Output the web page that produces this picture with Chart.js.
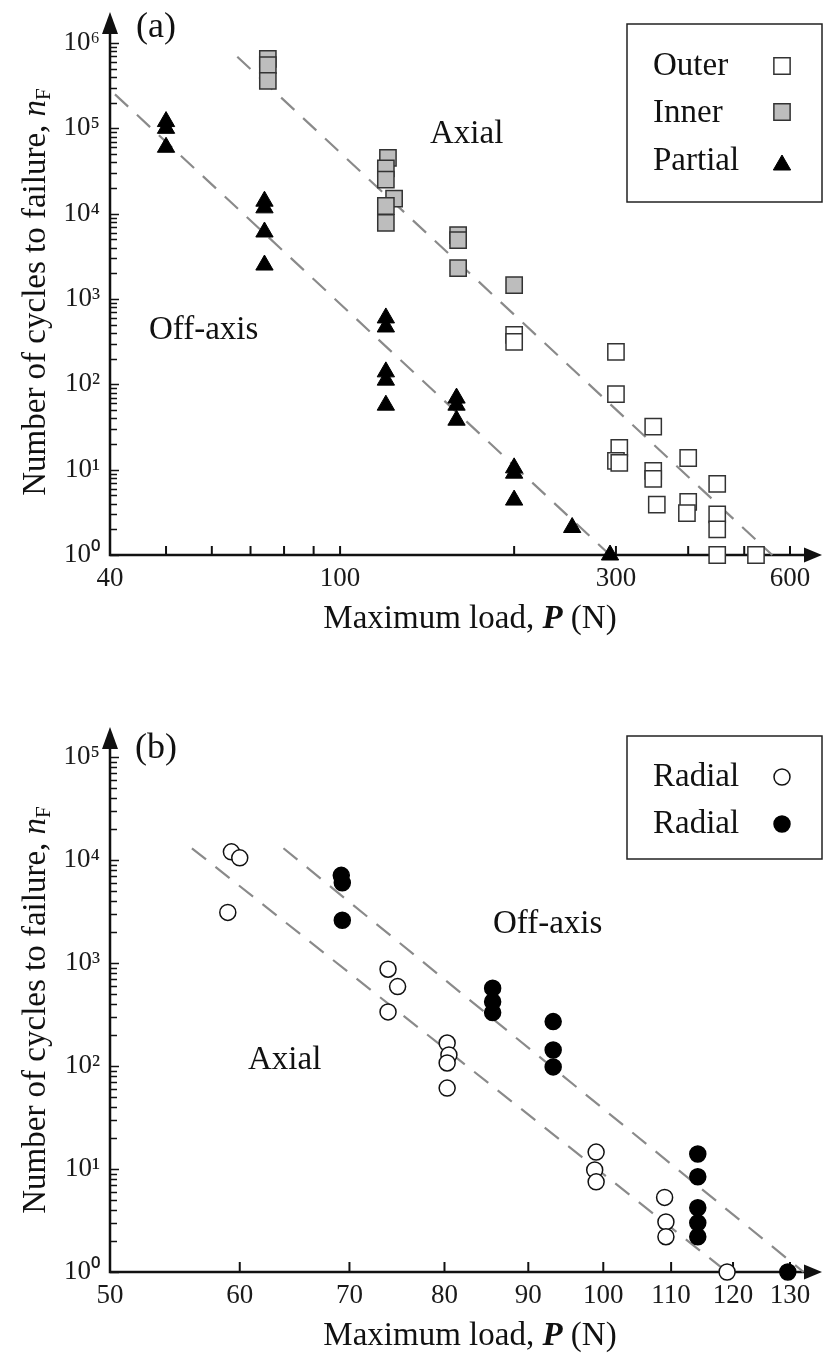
<!DOCTYPE html>
<html>
<head>
<meta charset="utf-8">
<script src="https://cdn.jsdelivr.net/npm/chart.js@4.4.1/dist/chart.umd.min.js"></script>
<style>
  html, body { margin: 0; padding: 0; background: #fff; }
  canvas { display: block; }
</style>
</head>
<body>
<canvas id="chartA" width="824" height="676"></canvas>
<canvas id="chartB" width="824" height="677"></canvas>
<script>
// ---- panel (a): log load vs log cycles ----
const loadTicksA = [40, 50, 60, 70, 80, 90, 100, 200, 300, 400, 500, 600];
const loadLabelsA = [40, 100, 300, 600];
const cycleLabelsA = [1, 10, 100, 1e3, 1e4, 1e5, 1e6];

const outerLoad = [200, 200, 300, 300, 304, 300, 304, 348, 348, 348, 353, 400, 400, 398, 449, 449, 449, 449, 524];
const outerCycles = [380, 315, 240, 77, 18, 12.7, 12, 32, 9.7, 7.8, 3.9, 13.7, 4.2, 3.1, 6.8, 3.0, 2.0, 1, 1];

const innerLoad = [75, 75, 75, 121, 120, 120, 124, 120, 120, 160, 160, 160, 200];
const innerCycles = [6.5e5, 5.5e5, 3.6e5, 4.5e4, 3.4e4, 2.5e4, 1.5e4, 1.23e4, 7.8e3, 5.6e3, 4.9e3, 2.3e3, 1.45e3];

const partialLoad = [50, 50, 50, 74, 74, 74, 74, 120, 120, 120, 120, 120, 159, 159, 159, 200, 200, 200, 252, 293];
const partialCycles = [1.2e5, 1.0e5, 6.0e4, 1.4e4, 1.17e4, 6.1e3, 2.5e3, 600, 470, 140, 112, 57, 69, 57, 38, 10.5, 9.1, 4.4, 2.1, 1];

const axialFitLoadA = [66.4, 559];
const axialFitCyclesA = [6.9e5, 1];
const offAxisFitLoadA = [40.8, 293];
const offAxisFitCyclesA = [2.5e5, 1];

// ---- panel (b): radial ----
const loadTicksB = [50, 60, 70, 80, 90, 100, 110, 120, 130];
const cycleLabelsB = [1, 10, 100, 1e3, 1e4, 1e5];

const openLoad = [59.3, 60, 59, 73.9, 74.9, 73.9, 80.3, 80.5, 80.3, 80.3, 99, 98.8, 99, 109, 109.2, 109.2, 119];
const openCycles = [1.2e4, 1.05e4, 3.1e3, 870, 590, 335, 167, 128, 107, 61, 14.6, 9.8, 7.5, 5.3, 3.06, 2.2, 1];

const filledLoad = [69.2, 69.3, 69.3, 85.6, 85.6, 85.6, 93.2, 93.2, 93.2, 114.2, 114.2, 114.2, 114.2, 114.2, 129.6];
const filledCycles = [7.1e3, 6.0e3, 2.6e3, 570, 420, 330, 270, 143, 98, 14, 8.4, 4.2, 3.0, 2.2, 1];

const offAxisFitLoadB = [63.8, 132.5];
const offAxisFitCyclesB = [1.3e4, 1];
const axialFitLoadB = [56.1, 119];
const axialFitCyclesB = [1.3e4, 1];

const SERIF = "'Liberation Serif', 'Times New Roman', serif";
const SUP = ['\u2070', '\u00b9', '\u00b2', '\u00b3', '\u2074', '\u2075', '\u2076', '\u2077', '\u2078', '\u2079'];

const pts = (xs, ys) => xs.map((x, i) => ({ x: x, y: ys[i] }));

function pointSet(label, xs, ys, style, radius, fill, border) {
    return {
        label: label,
        data: pts(xs, ys),
        pointStyle: style,
        pointRadius: radius,
        pointHoverRadius: radius,
        backgroundColor: fill,
        borderColor: border,
        borderWidth: style === 'triangle' ? 1 : 1.5,
        clip: false,
        order: 0,
    };
}

function fitLine(xs, ys) {
    return {
        label: 'fit',
        data: pts(xs, ys),
        showLine: true,
        borderColor: '#8a8a8a',
        borderWidth: 2.2,
        borderDash: [18, 12],
        pointRadius: 0,
        clip: false,
        order: 5,
    };
}

function drawRuns(ctx, runs, x, y) {
    let total = 0;
    runs.forEach(r => { ctx.font = r.font; total += ctx.measureText(r.text).width; });
    let cx = x - total / 2;
    runs.forEach(r => {
        ctx.font = r.font;
        ctx.fillText(r.text, cx, y + (r.dy || 0));
        cx += ctx.measureText(r.text).width;
    });
}

function drawMarker(ctx, ds, x, y) {
    const r = ds.pointRadius;
    ctx.save();
    ctx.fillStyle = ds.backgroundColor;
    ctx.strokeStyle = ds.borderColor;
    ctx.lineWidth = ds.borderWidth;
    ctx.beginPath();
    if (ds.pointStyle === 'rect') {
        const s = Math.SQRT1_2 * r;
        ctx.rect(x - s, y - s, 2 * s, 2 * s);
    } else if (ds.pointStyle === 'triangle') {
        ctx.moveTo(x, y - r);
        ctx.lineTo(x + r * Math.sin(2 * Math.PI / 3), y + r / 2);
        ctx.lineTo(x - r * Math.sin(2 * Math.PI / 3), y + r / 2);
        ctx.closePath();
    } else {
        ctx.arc(x, y, r, 0, Math.PI * 2);
    }
    ctx.fill();
    ctx.stroke();
    ctx.restore();
}

function decor(cfg) {
    return {
        id: 'decor',
        beforeDatasetsDraw(chart) {
            const ctx = chart.ctx;
            const xs = chart.scales.x, ys = chart.scales.y;
            const a = chart.chartArea;
            ctx.save();
            ctx.strokeStyle = '#111';
            ctx.fillStyle = '#111';
            // y ticks: decades and 2..9 minors, pointing inwards
            ctx.lineWidth = 1.5;
            cfg.yDecades.forEach(v => {
                for (let m = 1; m <= 9; m++) {
                    const val = v * m;
                    if (val > ys.max * 1.0001) break;
                    const py = Math.round(ys.getPixelForValue(val)) + 0.5;
                    ctx.beginPath();
                    ctx.moveTo(a.left, py);
                    ctx.lineTo(a.left + (m === 1 ? 9 : 7), py);
                    ctx.stroke();
                }
            });
            // x ticks
            ctx.lineWidth = 2;
            cfg.xTicks.forEach(v => {
                const px = xs.getPixelForValue(v);
                ctx.beginPath();
                ctx.moveTo(px, a.bottom);
                ctx.lineTo(px, a.bottom - cfg.xTickLen);
                ctx.stroke();
            });
            // axis lines with arrows
            ctx.lineWidth = 2.5;
            ctx.beginPath();
            ctx.moveTo(a.left, cfg.yTip + 18);
            ctx.lineTo(a.left, a.bottom);
            ctx.lineTo(cfg.xTip - 16, a.bottom);
            ctx.stroke();
            ctx.beginPath();
            ctx.moveTo(a.left, cfg.yTip);
            ctx.lineTo(a.left + 8, cfg.yTip + 22);
            ctx.lineTo(a.left - 8, cfg.yTip + 22);
            ctx.closePath();
            ctx.fill();
            ctx.beginPath();
            ctx.moveTo(cfg.xTip, a.bottom);
            ctx.lineTo(cfg.xTip - 18, a.bottom - 7.5);
            ctx.lineTo(cfg.xTip - 18, a.bottom + 7.5);
            ctx.closePath();
            ctx.fill();
            ctx.restore();
        },
        afterDraw(chart) {
            const ctx = chart.ctx;
            ctx.save();
            ctx.fillStyle = '#111';
            ctx.textBaseline = 'alphabetic';
            ctx.textAlign = 'left';
            // x title
            drawRuns(ctx, [
                { text: 'Maximum load, ', font: '33px ' + SERIF },
                { text: 'P', font: 'italic bold 33px ' + SERIF },
                { text: ' (N)', font: '33px ' + SERIF },
            ], 470, cfg.xTitleY);
            // y title
            ctx.save();
            ctx.translate(45, cfg.yTitleY);
            ctx.rotate(-Math.PI / 2);
            drawRuns(ctx, [
                { text: 'Number of cycles to failure, ', font: '33px ' + SERIF },
                { text: 'n', font: 'italic 33px ' + SERIF },
                { text: 'F', font: '21px ' + SERIF, dy: 5 },
            ], 0, 0);
            ctx.restore();
            // panel letter and notes
            ctx.font = '36px ' + SERIF;
            ctx.fillText(cfg.letter, cfg.letterX, cfg.letterY);
            ctx.font = '33px ' + SERIF;
            cfg.notes.forEach(n => ctx.fillText(n.text, n.x, n.y));
            // legend box
            const L = cfg.legend;
            ctx.strokeStyle = '#222';
            ctx.lineWidth = 1.5;
            ctx.strokeRect(L.x, L.y, L.w, L.h);
            L.items.forEach(it => {
                ctx.fillStyle = '#111';
                ctx.font = '33px ' + SERIF;
                ctx.fillText(it.text, L.textX, it.y);
                drawMarker(ctx, chart.data.datasets[it.ds], L.markX, it.my);
            });
            ctx.restore();
        }
    };
}

function makeChart(id, cfg) {
    const canvas = document.getElementById(id);
    const h = canvas.height;
    return new Chart(canvas.getContext('2d'), {
        type: 'scatter',
        data: { datasets: cfg.datasets },
        options: {
            responsive: false,
            animation: false,
            devicePixelRatio: 1,
            layout: { padding: { top: cfg.top, right: 34, left: 0, bottom: 0 } },
            plugins: { legend: { display: false }, tooltip: { enabled: false } },
            scales: {
                x: {
                    type: 'logarithmic',
                    min: cfg.xMin,
                    max: cfg.xMax,
                    grid: { display: false, drawTicks: false },
                    border: { display: false },
                    afterBuildTicks: s => { s.ticks = cfg.xLabels.map(v => ({ value: v })); },
                    afterFit: s => { s.height = h - cfg.bottom; },
                    ticks: {
                        autoSkip: false,
                        maxRotation: 0,
                        padding: 8,
                        color: '#1a1a1a',
                        font: { family: SERIF, size: 27 },
                        callback: v => String(v),
                    },
                },
                y: {
                    type: 'logarithmic',
                    min: 1,
                    max: cfg.yMax,
                    grid: { display: false, drawTicks: false },
                    border: { display: false },
                    afterBuildTicks: s => { s.ticks = cfg.yDecades.map(v => ({ value: v })); },
                    afterFit: s => { s.width = 110; },
                    ticks: {
                        autoSkip: false,
                        padding: 10,
                        color: '#1a1a1a',
                        font: { family: SERIF, size: 27 },
                        callback: v => '10' + SUP[Math.round(Math.log10(v))],
                    },
                },
            },
        },
        plugins: [decor(cfg)],
    });
}

makeChart('chartA', {
    top: 43, bottom: 555, xMin: 40, xMax: 600, yMax: 1e6,
    xLabels: loadLabelsA, xTicks: loadTicksA, yDecades: cycleLabelsA, xTickLen: 9,
    yTip: 12, xTip: 822, xTitleY: 628, yTitleY: 292,
    letter: '(a)', letterX: 136, letterY: 37,
    notes: [{ text: 'Axial', x: 430, y: 143 }, { text: 'Off-axis', x: 149, y: 339 }],
    legend: {
        x: 627, y: 24, w: 195, h: 178, textX: 653, markX: 782,
        items: [
            { text: 'Outer', y: 75, my: 66, ds: 0 },
            { text: 'Inner', y: 122, my: 112, ds: 1 },
            { text: 'Partial', y: 170, my: 165, ds: 2 },
        ],
    },
    datasets: [
        pointSet('Outer', outerLoad, outerCycles, 'rect', 11.5, '#ffffff', '#333333'),
        pointSet('Inner', innerLoad, innerCycles, 'rect', 11.5, '#bdbdbd', '#333333'),
        pointSet('Partial', partialLoad, partialCycles, 'triangle', 10, '#000000', '#000000'),
        fitLine(axialFitLoadA, axialFitCyclesA),
        fitLine(offAxisFitLoadA, offAxisFitCyclesA),
    ],
});

makeChart('chartB', {
    top: 81, bottom: 596, xMin: 50, xMax: 130, yMax: 1e5,
    xLabels: loadTicksB, xTicks: loadTicksB, yDecades: cycleLabelsB, xTickLen: 10,
    yTip: 51, xTip: 822, xTitleY: 669, yTitleY: 334,
    letter: '(b)', letterX: 135, letterY: 82,
    notes: [{ text: 'Off-axis', x: 493, y: 257 }, { text: 'Axial', x: 248, y: 393 }],
    legend: {
        x: 627, y: 60, w: 195, h: 123, textX: 653, markX: 782,
        items: [
            { text: 'Radial', y: 110, my: 101, ds: 0 },
            { text: 'Radial', y: 157, my: 148, ds: 1 },
        ],
    },
    datasets: [
        pointSet('Radial open', openLoad, openCycles, 'circle', 8, '#ffffff', '#111111'),
        pointSet('Radial filled', filledLoad, filledCycles, 'circle', 8, '#000000', '#000000'),
        fitLine(offAxisFitLoadB, offAxisFitCyclesB),
        fitLine(axialFitLoadB, axialFitCyclesB),
    ],
});
</script>
</body>
</html>
